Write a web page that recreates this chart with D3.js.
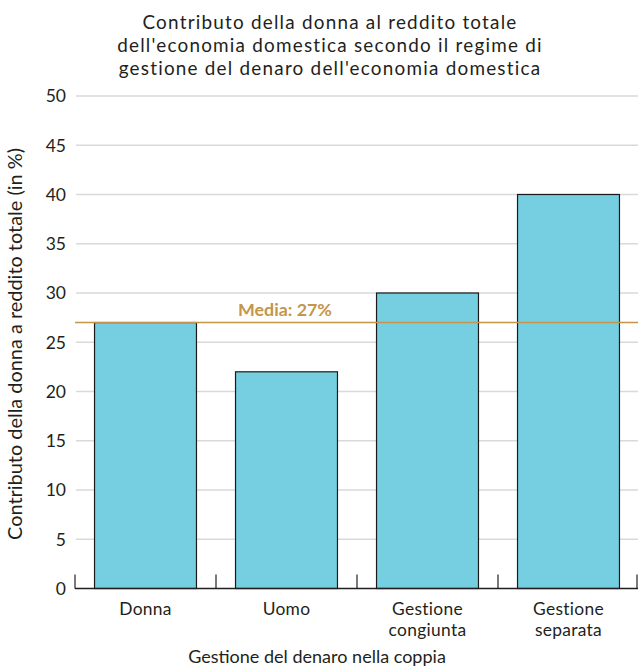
<!DOCTYPE html>
<html><head><meta charset="utf-8">
<script src="https://cdn.jsdelivr.net/npm/d3@7"></script>
<style>body{margin:0;background:#fff}svg{display:block}text{font-family:Lato,sans-serif;fill:#231f20}</style>
</head><body>
<script>
const categories = [["Donna"], ["Uomo"], ["Gestione", "congiunta"], ["Gestione", "separata"]];
const values = [27, 22, 30, 40];
const meanValue = 27;
const meanLabel = "Media: 27%";
const yTicks = [0, 5, 10, 15, 20, 25, 30, 35, 40, 45, 50];
const titleLines = ["Contributo della donna al reddito totale", "dell'economia domestica secondo il regime di", "gestione del denaro dell'economia domestica"];
const xTitle = "Gestione del denaro nella coppia";
const yTitle = "Contributo della donna a reddito totale (in %)";

const W = 638, H = 668;
const m = {left: 75, right: -1, top: 96, bottom: 79.5};
const svg = d3.select("body").append("svg").attr("width", W).attr("height", H);
const keys = categories.map(c => c.join(" "));
const x = d3.scaleBand().domain(keys).range([m.left, W - m.right]).paddingInner(0.277).paddingOuter(0.1385);
const y = d3.scaleLinear().domain([0, 50]).range([H - m.bottom, m.top]);

// size a text so its width matches a target width
function fitSize(sel, target) {
  sel.style("font-size", "20px");
  const w = sel.node().getComputedTextLength();
  const s = 20 * target / w;
  sel.style("font-size", s + "px");
  return s;
}

// title
const tg = svg.append("g");
const tLines = tg.selectAll("text").data(titleLines).join("text")
  .attr("x", 330).attr("text-anchor", "middle").style("font-size", "18.9px").text(d => d);
const t2 = tLines.filter((d, i) => i === 1).node();
const ls = (426 - t2.getComputedTextLength()) / titleLines[1].length;
tLines.style("letter-spacing", ls + "px").attr("y", (d, i) => 29 + i * 23);

// grid
svg.append("g").selectAll("line").data(yTicks.filter(d => d > 0)).join("line")
  .attr("x1", 76).attr("x2", W).attr("y1", d => y(d)).attr("y2", d => y(d))
  .attr("stroke", "#d9d9d9").attr("stroke-width", 1.3);

// y labels
svg.append("g").selectAll("text").data(yTicks).join("text")
  .attr("x", 66).attr("y", d => y(d)).attr("dy", "0.36em")
  .attr("text-anchor", "end").style("font-size", "17.5px").text(d => d);

// bars
svg.append("g").selectAll("rect").data(values).join("rect")
  .attr("x", (d, i) => x(keys[i])).attr("width", x.bandwidth())
  .attr("y", d => y(d)).attr("height", d => y(0) - y(d))
  .attr("fill", "#75cfe0").attr("stroke", "#1a1a1a").attr("stroke-width", 1.2);

// x axis
const y0 = y(0);
svg.append("line").attr("x1", m.left).attr("x2", W).attr("y1", y0).attr("y2", y0)
  .attr("stroke", "#231f20").attr("stroke-width", 1.5);
const step = x.step();
const tickXs = d3.range(0, keys.length + 1).map(i => m.left + i * step);
svg.append("g").selectAll("line").data(tickXs).join("line")
  .attr("x1", d => Math.min(d, W - 1)).attr("x2", d => Math.min(d, W - 1))
  .attr("y1", y0).attr("y2", y0 - 14).attr("stroke", "#231f20").attr("stroke-width", 1.2);

// category labels
const probe = svg.append("text").text("Gestione");
const cs = Math.min(17.4, fitSize(probe, 77));
probe.remove();
const cl = svg.append("g").selectAll("text").data(categories).join("text")
  .attr("x", (d, i) => x(keys[i]) + x.bandwidth() / 2).attr("y", 615)
  .attr("text-anchor", "middle").style("font-size", cs + "px").style("letter-spacing", "0.3px");
cl.selectAll("tspan").data(d => d).join("tspan")
  .attr("x", function() { return this.parentNode.getAttribute("x"); })
  .attr("dy", (d, i) => i === 0 ? 0 : 21).text(d => d);

// mean line
svg.append("line").attr("x1", m.left).attr("x2", W).attr("y1", y(meanValue)).attr("y2", y(meanValue))
  .attr("stroke", "#c4954a").attr("stroke-width", 1.6);
const ml = svg.append("text").attr("x", 285).attr("y", y(meanValue) - 7)
  .attr("text-anchor", "middle").style("font-weight", "700")
  .style("fill", "#c4954a").text(meanLabel);
fitSize(ml, 94);

// axis titles
const xt = svg.append("text").attr("x", 317).attr("y", 663).attr("text-anchor", "middle").text(xTitle);
fitSize(xt, 258);
const yt = svg.append("text").attr("transform", `translate(22,344) rotate(-90)`)
  .attr("text-anchor", "middle").text(yTitle);
fitSize(yt, 392);
</script>
</body></html>
